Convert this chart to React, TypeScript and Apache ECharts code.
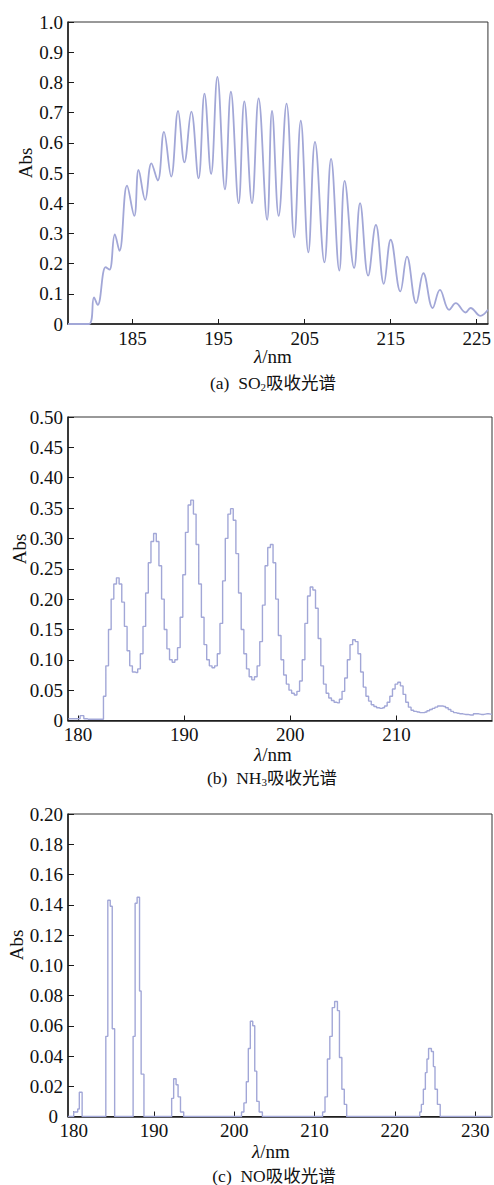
import React, { useEffect, useRef } from "react";
import * as echarts from "echarts";

// (a) SO2 absorption spectrum: [wavelength nm, Abs]
const so2Data: number[][] = [
  [177.5, 0], [179.95, 0], [180.52, 0.088], [180.95, 0.063], [181.87, 0.188], [182.33, 0.18],
  [182.94, 0.297], [183.48, 0.242], [184.36, 0.458], [185.2, 0.358], [185.7, 0.51], [186.47, 0.411],
  [187.19, 0.532], [187.93, 0.475], [188.65, 0.636], [189.49, 0.488], [190.29, 0.706], [191.03, 0.535],
  [191.83, 0.703], [192.67, 0.482], [193.36, 0.763], [194.13, 0.497], [194.86, 0.818], [195.74, 0.446],
  [196.43, 0.769], [197.33, 0.4], [197.99, 0.737], [198.88, 0.4], [199.65, 0.747], [200.64, 0.345],
  [201.21, 0.706], [201.98, 0.358], [202.9, 0.73], [203.79, 0.287], [204.55, 0.673], [205.43, 0.237],
  [206.2, 0.603], [207.3, 0.204], [208.07, 0.547], [209.03, 0.177], [209.65, 0.474], [210.75, 0.185],
  [211.44, 0.4], [212.38, 0.16], [213.28, 0.328], [214.2, 0.133], [215.0, 0.279], [216.12, 0.108],
  [216.89, 0.223], [217.96, 0.069], [218.8, 0.168], [219.88, 0.053], [220.72, 0.113], [221.79, 0.047],
  [222.56, 0.069], [223.71, 0.038], [224.28, 0.053], [225.43, 0.027], [226.3, 0.047],
];

// (b) NH3 absorption spectrum
const nh3Data: number[][] = [
  [179.1, 0.003], [179.5, 0.003], [180.0, 0.003], [180.4, 0.008], [180.7, 0.003], [181.0, 0.002],
  [181.5, 0.002], [182.0, 0.002], [182.3, 0.002], [182.5, 0.04], [182.75, 0.09], [183.0, 0.15],
  [183.25, 0.2], [183.5, 0.225], [183.75, 0.235], [184.0, 0.225], [184.25, 0.195], [184.5, 0.155],
  [184.75, 0.115], [185.0, 0.09], [185.25, 0.08], [185.5, 0.079], [185.75, 0.085], [186.0, 0.11],
  [186.25, 0.155], [186.5, 0.21], [186.75, 0.26], [187.0, 0.295], [187.25, 0.308], [187.5, 0.295],
  [187.75, 0.255], [188.0, 0.2], [188.25, 0.15], [188.5, 0.118], [188.75, 0.1], [189.0, 0.096],
  [189.25, 0.1], [189.5, 0.12], [189.75, 0.17], [190.0, 0.24], [190.25, 0.31], [190.5, 0.355],
  [190.75, 0.363], [191.0, 0.34], [191.25, 0.29], [191.5, 0.225], [191.75, 0.17], [192.0, 0.125],
  [192.25, 0.1], [192.5, 0.09], [192.75, 0.087], [193.0, 0.09], [193.25, 0.11], [193.5, 0.16],
  [193.75, 0.23], [194.0, 0.3], [194.25, 0.34], [194.5, 0.349], [194.75, 0.33], [195.0, 0.275],
  [195.25, 0.21], [195.5, 0.15], [195.75, 0.11], [196.0, 0.085], [196.25, 0.072], [196.5, 0.067],
  [196.75, 0.072], [197.0, 0.09], [197.25, 0.13], [197.5, 0.19], [197.75, 0.255], [198.0, 0.285],
  [198.25, 0.29], [198.5, 0.26], [198.75, 0.2], [199.0, 0.14], [199.25, 0.1], [199.5, 0.075],
  [199.75, 0.06], [200.0, 0.05], [200.25, 0.045], [200.5, 0.042], [200.75, 0.048], [201.0, 0.065],
  [201.25, 0.1], [201.5, 0.16], [201.75, 0.205], [202.0, 0.22], [202.25, 0.215], [202.5, 0.185],
  [202.75, 0.135], [203.0, 0.09], [203.25, 0.06], [203.5, 0.045], [203.75, 0.037], [204.0, 0.033],
  [204.25, 0.03], [204.5, 0.029], [204.75, 0.035], [205.0, 0.048], [205.25, 0.07], [205.5, 0.1],
  [205.75, 0.125], [206.0, 0.133], [206.25, 0.13], [206.5, 0.11], [206.75, 0.08], [207.0, 0.055],
  [207.25, 0.04], [207.5, 0.032], [207.75, 0.026], [208.0, 0.023], [208.25, 0.021], [208.5, 0.02],
  [208.75, 0.021], [209.0, 0.024], [209.25, 0.03], [209.5, 0.04], [209.75, 0.052], [210.0, 0.06],
  [210.25, 0.063], [210.5, 0.057], [210.75, 0.043], [211.0, 0.03], [211.25, 0.022], [211.5, 0.017],
  [211.75, 0.015], [212.0, 0.014], [212.25, 0.013], [212.5, 0.013], [212.75, 0.014], [213.0, 0.016],
  [213.25, 0.018], [213.5, 0.02], [213.75, 0.022], [214.0, 0.024], [214.25, 0.024], [214.5, 0.023],
  [214.75, 0.021], [215.0, 0.018], [215.25, 0.015], [215.5, 0.013], [215.75, 0.012], [216.0, 0.011],
  [216.5, 0.01], [217.0, 0.009], [217.5, 0.011], [218.0, 0.01], [218.5, 0.011], [219.0, 0.01],
];

// (c) NO absorption spectrum (value holds until next wavelength)
const noData: number[][] = [
  [179.3, 0], [180.0, 0.003], [180.5, 0.005], [180.7, 0.016], [181.05, 0],
  [184.0, 0.053], [184.25, 0.143], [184.55, 0.139], [184.8, 0.058], [185.1, 0],
  [187.4, 0.053], [187.65, 0.141], [187.9, 0.145], [188.2, 0.083], [188.4, 0.028], [188.75, 0],
  [192.2, 0.012], [192.45, 0.025], [192.75, 0.021], [193.0, 0.013], [193.3, 0.003], [193.7, 0],
  [200.9, 0.003], [201.2, 0.009], [201.5, 0.023], [201.75, 0.045], [202.0, 0.063], [202.3, 0.06],
  [202.55, 0.03], [202.8, 0.01], [203.1, 0.003], [203.5, 0],
  [211.0, 0.003], [211.3, 0.013], [211.6, 0.038], [211.9, 0.053], [212.2, 0.072], [212.5, 0.076],
  [212.85, 0.07], [213.1, 0.039], [213.4, 0.018], [213.7, 0.008], [214.0, 0],
  [223.1, 0.003], [223.3, 0.008], [223.55, 0.018], [223.8, 0.029], [224.0, 0.038], [224.2, 0.045],
  [224.55, 0.043], [224.8, 0.033], [225.0, 0.018], [225.3, 0.008], [225.65, 0], [232.1, 0],
];

const xTicksA = [185, 195, 205, 215, 225];
const xTicksB = [180, 190, 200, 210];
const xTicksC = [180, 190, 200, 210, 220, 230];

const SERIF = "'Liberation Serif', 'Times New Roman', 'Noto Sans CJK SC', serif";
const LINE = "#a2a7d7";
const AXIS = "#1a1a1a";

function xAxis(gridIndex: number, min: number, max: number, ticks: number[]) {
  return {
    type: "value",
    gridIndex,
    min,
    max,
    axisLine: { show: true, onZero: false, lineStyle: { color: AXIS, width: 1.5 } },
    axisTick: { show: true, inside: true, length: 5, customValues: ticks, lineStyle: { color: AXIS, width: 1 } },
    axisLabel: { customValues: ticks, fontFamily: SERIF, fontSize: 19, lineHeight: 14, color: "#111", margin: 7 },
    splitLine: { show: false },
  };
}

function yAxis(gridIndex: number, max: number, interval: number, digits: number, zeroPad: number) {
  return {
    type: "value",
    gridIndex,
    min: 0,
    max,
    interval,
    axisLine: { show: true, onZero: false, lineStyle: { color: AXIS, width: 1.5 } },
    axisTick: { show: true, inside: true, length: 6, lineStyle: { color: AXIS, width: 1 } },
    axisLabel: {
      fontFamily: SERIF,
      fontSize: 19,
      lineHeight: 12,
      color: "#111",
      margin: 5,
      showMaxLabel: true,
      formatter: (v: number) =>
        Math.abs(v) < 1e-9 ? (zeroPad ? "{z|0}" : "0") : v.toFixed(digits),
      rich: {
        z: { fontFamily: SERIF, fontSize: 19, lineHeight: 12, color: "#111", padding: [0, zeroPad, 0, 0] },
      },
    },
    splitLine: { show: false },
  };
}

function absLabel(x: number, y: number) {
  return {
    type: "text",
    x,
    y,
    rotation: Math.PI / 2,
    style: { text: "Abs", fontFamily: SERIF, fontSize: 19, fill: "#111", align: "center", verticalAlign: "middle" },
  };
}

function nmLabel(x: number, y: number) {
  return {
    type: "text",
    x,
    y,
    style: {
      text: "{i|λ}/nm",
      fontFamily: SERIF,
      fontSize: 19,
      fill: "#111",
      align: "center",
      verticalAlign: "middle",
      rich: { i: { fontFamily: SERIF, fontSize: 19, fontStyle: "italic", fill: "#111" } },
    },
  };
}

function caption(x: number, y: number, prefix: string, sub: string, rest: string) {
  const text = sub ? `${prefix}{s|${sub}}${rest}` : `${prefix}${rest}`;
  return {
    type: "text",
    x,
    y,
    style: {
      text,
      fontFamily: SERIF,
      fontSize: 17.5,
      fill: "#111",
      align: "center",
      verticalAlign: "middle",
      rich: { s: { fontFamily: SERIF, fontSize: 11, fill: "#111", verticalAlign: "bottom", lineHeight: 18 } },
    },
  };
}

export default function App() {
  const ref = useRef<HTMLDivElement>(null);
  useEffect(() => {
    if (!ref.current) return;
    const chart = echarts.init(ref.current, undefined, { renderer: "svg" });
    const gridStyle = { show: true, borderColor: "#333", borderWidth: 1, backgroundColor: "transparent" };
    chart.setOption({
      animation: false,
      backgroundColor: "#fff",
      grid: [
        { left: 68, top: 22, width: 424, height: 302, ...gridStyle },
        { left: 68, top: 417, width: 424, height: 303.5, ...gridStyle },
        { left: 68, top: 814, width: 424, height: 302.5, ...gridStyle },
      ],
      xAxis: [
        xAxis(0, 177.5, 226.3, xTicksA),
        xAxis(1, 179.06, 219.0, xTicksB),
        xAxis(2, 179.29, 232.1, xTicksC),
      ],
      yAxis: [yAxis(0, 1.0, 0.1, 1, 0), yAxis(1, 0.5, 0.05, 2, 0), yAxis(2, 0.2, 0.02, 2, 5)],
      series: [
        {
          type: "line",
          xAxisIndex: 0,
          yAxisIndex: 0,
          data: so2Data,
          smooth: 0.4,
          showSymbol: false,
          lineStyle: { color: LINE, width: 1.8 },
        },
        {
          type: "line",
          xAxisIndex: 1,
          yAxisIndex: 1,
          data: nh3Data,
          step: "middle",
          showSymbol: false,
          lineStyle: { color: LINE, width: 1.4 },
        },
        {
          type: "line",
          xAxisIndex: 2,
          yAxisIndex: 2,
          data: noData,
          step: "end",
          showSymbol: false,
          lineStyle: { color: LINE, width: 1.4 },
        },
      ],
      graphic: [
        absLabel(25, 163),
        absLabel(19, 549),
        absLabel(16, 945),
        nmLabel(273, 356),
        nmLabel(273, 754),
        nmLabel(271, 1151),
        caption(273, 383, "(a)  SO", "2", "吸收光谱"),
        caption(272, 778, "(b)  NH", "3", "吸收光谱"),
        caption(274, 1176, "(c)  NO", "", "吸收光谱"),
      ],
    });
    return () => chart.dispose();
  }, []);
  return <div ref={ref} style={{ position: "absolute", left: 0, top: 0, width: 494, height: 1185 }} />;
}
